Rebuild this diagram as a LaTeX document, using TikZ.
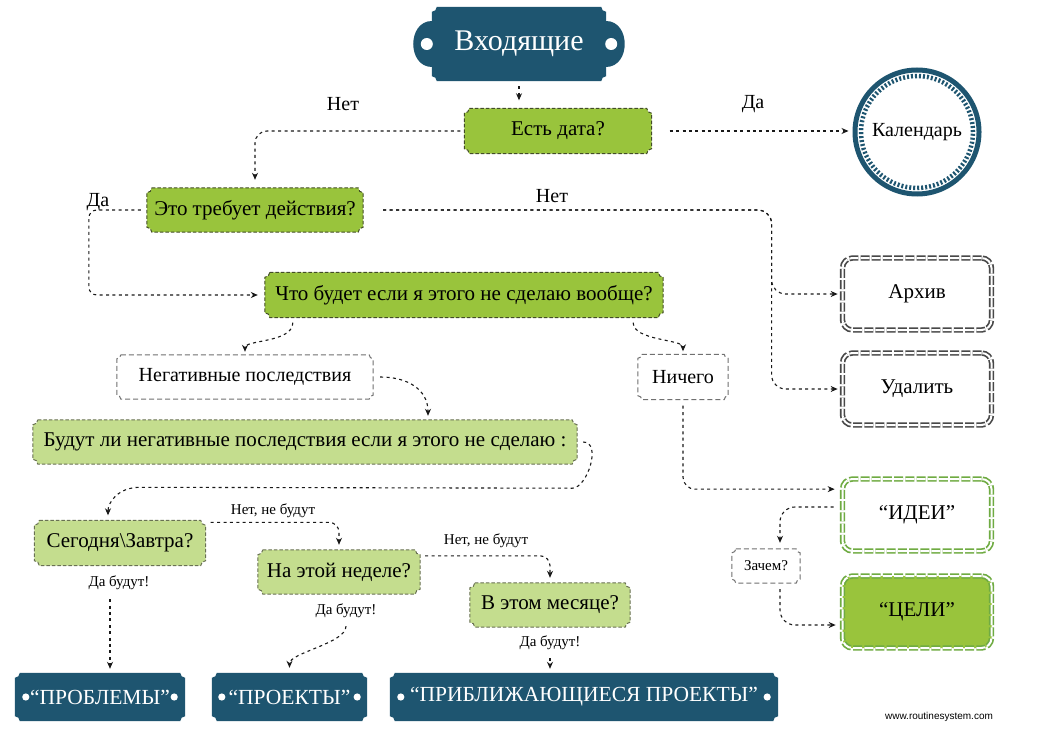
\documentclass[tikz,border=0pt]{standalone}
\usepackage{fontspec}
\setmainfont{Liberation Serif}
\newfontfamily\webfont{Liberation Sans}
\usetikzlibrary{arrows.meta,calc,backgrounds}
\definecolor{tealb}{HTML}{1E5570}
\definecolor{gmain}{HTML}{99C43C}
\definecolor{glight}{HTML}{C4DD8E}
\definecolor{gborder}{HTML}{434D28}
\definecolor{gdouble}{HTML}{6FAB42}
\definecolor{graybox}{HTML}{484848}
\definecolor{wborder}{HTML}{707070}
\newcommand\notchshape[3]{%
  \path[#1] let \p1=(#2.north west), \p2=(#2.south east) in
   ({\x1+#3pt},\y1) -- ({\x2-#3pt},\y1)
   .. controls ({\x2-#3pt},{\y1-0.55*#3pt}) and ({\x2-0.55*#3pt},{\y1-#3pt}) .. (\x2,{\y1-#3pt})
   -- (\x2,{\y2+#3pt})
   .. controls ({\x2-0.55*#3pt},{\y2+#3pt}) and ({\x2-#3pt},{\y2+0.55*#3pt}) .. ({\x2-#3pt},\y2)
   -- ({\x1+#3pt},\y2)
   .. controls ({\x1+#3pt},{\y2+0.55*#3pt}) and ({\x1+0.55*#3pt},{\y2+#3pt}) .. (\x1,{\y2+#3pt})
   -- (\x1,{\y1-#3pt})
   .. controls ({\x1+0.55*#3pt},{\y1-#3pt}) and ({\x1+#3pt},{\y1-0.55*#3pt}) .. ({\x1+#3pt},\y1)
   -- cycle;}
\newcommand\bannerdots[2]{%
  \fill[white] ($(#1.west)+(#2,0)$) circle[radius=3.6pt];
  \fill[white] ($(#1.east)+(-#2,0)$) circle[radius=3.6pt];}
\begin{document}
\begin{tikzpicture}[x=1pt,y=-1pt,
  gbox/.style={inner sep=0pt, font=\fontsize{21}{24}\selectfont, text=black},
  wbox/.style={inner sep=0pt, font=\fontsize{20}{24}\selectfont, text=black},
  lbl/.style={inner sep=0pt, font=\fontsize{20}{24}\selectfont},
  slbl/.style={inner sep=0pt, font=\fontsize{15}{18}\selectfont},
  banner/.style={inner sep=0pt, text=white, font=\fontsize{21.5}{24}\selectfont, minimum height=48pt},
  dbox/.style={draw, double=white, double distance=2pt, line width=1.7pt,
     dash pattern=on 9pt off 2.2pt, rounded corners=10pt, minimum width=149pt,
     minimum height=72pt, inner sep=0pt, font=\fontsize{21}{24}\selectfont},
  calnode/.style={circle, draw=tealb, line width=5pt, minimum size=124pt, inner sep=0pt,
     font=\fontsize{20}{24}\selectfont},
  conn/.style={draw=black!90, line width=1.1pt, dash pattern=on 3pt off 3.4pt,
     -{Stealth[length=7pt,width=6pt]}}]
\useasboundingbox (0,0) rectangle (1040,735);
% nodes
\node[banner, minimum width=174pt, minimum height=74pt, font=\fontsize{30}{34}\selectfont] (in) at (519,44) {Входящие};
\node[gbox, minimum width=187pt, minimum height=45pt] (q1) at (558,131) {Есть дата?};
\node[calnode] (cal) at (917,132) {Календарь};
\node[gbox, minimum width=216pt, minimum height=44pt] (q2) at (255,210) {Это требует действия?};
\node[gbox, minimum width=398pt, minimum height=45pt] (q3) at (464,295) {Что будет если я этого не сделаю вообще?};
\node[wbox, minimum width=256pt, minimum height=44pt] (neg) at (245,377) {Негативные последствия};
\node[wbox, minimum width=90pt, minimum height=45pt] (none) at (683,377) {Ничего};
\node[gbox, minimum width=544pt, minimum height=44pt] (q4) at (305,442) {Будут ли негативные последствия если я этого не сделаю :};
\node[gbox, minimum width=171pt, minimum height=45pt] (q5) at (120,543) {Сегодня\textbackslash Завтра?};
\node[gbox, minimum width=162pt, minimum height=44pt] (q6) at (339,572) {На этой неделе?};
\node[gbox, minimum width=160pt, minimum height=44pt] (q7) at (550,605) {В этом месяце?};
\node[wbox, minimum width=68pt, minimum height=34pt, font=\fontsize{15}{18}\selectfont] (why) at (766,566) {Зачем?};
\node[dbox, draw=graybox] (arch) at (917,294) {Архив};
\node[dbox, draw=graybox] (del) at (917,389) {Удалить};
\node[dbox, draw=gdouble] (ideas) at (917,515) {“ИДЕИ”};
\node[dbox, draw=gdouble, fill=gmain] (goals) at (917,612) {“ЦЕЛИ”};
\node[banner, minimum width=170pt] (prob) at (100,697) {“ПРОБЛЕМЫ”};
\node[banner, minimum width=155pt] (proj) at (289.5,697) {“ПРОЕКТЫ”};
\node[banner, minimum width=388pt] (appr) at (584,697) {“ПРИБЛИЖАЮЩИЕСЯ ПРОЕКТЫ”};
% labels
\node[lbl] (l1) at (343,104) {Нет};
\node[lbl] (l2) at (753,104) {Да};
\node[lbl] (l3) at (98,202) {Да};
\node[lbl] (l4) at (552,196) {Нет};
\node[slbl] (l5) at (273,511) {Нет, не будут};
\node[slbl] (l6) at (486,541) {Нет, не будут};
\node[slbl] (y1) at (119,583) {Да будут!};
\node[slbl] (y2) at (346,611) {Да будут!};
\node[slbl] (y3) at (550,643) {Да будут!};
\node[font=\webfont\fontsize{10}{12}\selectfont, inner sep=0pt] (web) at (939,717) {www.routinesystem.com};
% calendar inner ticks
\draw[tealb, line width=4.5pt, dash pattern=on 2pt off 2pt] (cal.center) circle[radius=56pt];
% background shapes
\begin{pgfonlayer}{background}
  \fill[white] (0,0) rectangle (1040,735);
  \foreach \nm in {q1,q2,q3}{\notchshape{fill=gmain, draw=gborder, line width=1pt, dash pattern=on 3.5pt off 2pt}{\nm}{5}}
  \foreach \nm in {q4,q5,q6,q7}{\notchshape{fill=glight, draw=gborder!80, line width=1pt, dash pattern=on 3.5pt off 2pt}{\nm}{5}}
  \foreach \nm in {neg,none,why}{\notchshape{fill=white, draw=wborder, line width=1pt, dash pattern=on 5pt off 3pt}{\nm}{4}}
  \foreach \nm in {in,prob,proj,appr}{\notchshape{fill=tealb}{\nm}{5}}
  \fill[tealb] let \p1=(in.west) in (\x1,{\y1+23pt}) .. controls ({\x1-25pt},{\y1+23pt}) and ({\x1-25pt},{\y1-23pt}) .. (\x1,{\y1-23pt}) -- cycle;
  \fill[tealb] let \p1=(in.east) in (\x1,{\y1+23pt}) .. controls ({\x1+25pt},{\y1+23pt}) and ({\x1+25pt},{\y1-23pt}) .. (\x1,{\y1-23pt}) -- cycle;
  \fill[white] ($(in.west)+(-5,0)$) circle[radius=6pt];
  \fill[white] ($(in.east)+(5,0)$) circle[radius=6pt];
  \bannerdots{prob}{11}
  \bannerdots{proj}{10}
  \bannerdots{appr}{11}
\end{pgfonlayer}
% connectors
\draw[conn, shorten <=5pt, shorten >=8pt] (in.south) -- (in.south |- q1.north);
\draw[conn, rounded corners=12pt, shorten <=4pt, shorten >=8pt] (q1.west) -| (q2.north);
\draw[conn, shorten <=18pt, shorten >=4pt] (q1.east) -- (q1.east -| cal.west);
\draw[conn, rounded corners=8pt, shorten <=6pt, shorten >=7pt] (q2.west) -- ++(-58,0) |- (q3.west);
\draw[conn, rounded corners=14pt, shorten <=20pt, shorten >=4pt] (q2.east) -| ($(arch.west)+(-70,0)$) -- (arch.west);
\draw[conn, rounded corners=14pt, shorten <=20pt, shorten >=4pt] (q2.east) -| ($(del.west)+(-70,0)$) -- (del.west);
\draw[conn, shorten >=3pt] ($(q3.south west)+(28,5)$) .. controls +(0,20) and +(0,-15) .. (neg.north);
\draw[conn, shorten >=3pt] ($(q3.south east)+(-30,5)$) .. controls +(0,18) and +(0,-15) .. (none.north);
\draw[conn, shorten <=7pt, shorten >=4pt] (neg.east) .. controls +(35,0) and +(0,-30) .. ($(q4.north)+(123,0)$);
\draw[conn, shorten <=6pt, shorten >=5pt] (q4.east) .. controls +(25,0) and +(15,0) .. ($(q4.south east)+(-5,24)$) -- ($(q5.north)+(20,-33)$) .. controls +(-22,0) and +(0,-18) .. ($(q5.north)+(-12,0)$);
\draw[conn, rounded corners=10pt, shorten >=5pt] ($(q5.north east)+(5,2)$) -| (q6.north);
\draw[conn, rounded corners=10pt, shorten >=5pt] ($(q6.north east)+(5,6)$) -| (q7.north);
\coordinate (y1a) at ($(y1.south)+(-9,0)$);
\draw[conn, shorten <=9pt, shorten >=4pt] (y1a) -- (y1a |- prob.north);
\draw[conn, shorten <=8pt, shorten >=5pt] (y2.south) .. controls +(0,25) and +(0,-20) .. (proj.north);
\coordinate (y3a) at (y3.south);
\draw[conn, shorten <=8pt, shorten >=4pt] (y3a) -- (y3a |- appr.north);
\draw[conn, rounded corners=12pt, shorten <=6pt, shorten >=4pt] (none.south) |- ($(ideas.north west)+(-3,11)$);
\draw[conn, rounded corners=15pt, shorten >=6pt] ($(ideas.west)+(-8,-8)$) -| ([xshift=14pt]why.north);
\draw[conn, rounded corners=15pt, shorten <=6pt] ([xshift=14pt]why.south) |- ($(goals.west)+(-6,13)$);
\end{tikzpicture}
\end{document}
